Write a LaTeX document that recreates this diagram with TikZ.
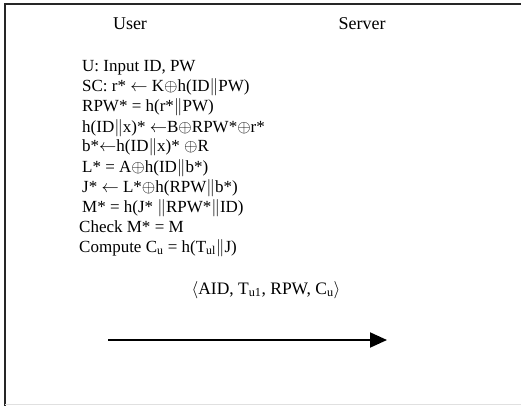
\documentclass[tikz,border=0pt]{standalone}
\usepackage{fontspec}
\setmainfont{Liberation Serif}
\usetikzlibrary{arrows.meta}
\newcommand{\xr}{\ensuremath{\oplus}}
\newcommand{\cat}{\ensuremath{\|}}
\newcommand{\larr}{\ensuremath{\leftarrow}}
\begin{document}
\begin{tikzpicture}[x=1pt,y=-1pt,
  txt/.style={anchor=base west,inner sep=0pt,font=\fontsize{17}{20}\selectfont},
  head/.style={anchor=base,inner sep=0pt,font=\fontsize{18}{20}\selectfont},
  msg/.style={-{Triangle[length=17pt,width=15pt]},line width=2pt}]
  \useasboundingbox (0,0) rectangle (521,406);
  \fill[white] (0,0) rectangle (521,406);
  % frame
  \draw[line width=2pt,black!85] (5,406) -- (5,4) -- (521,4);
  \draw[line width=0.8pt,black!12] (5,404) -- (521,404);
  % column headings
  \node[head] (user) at (130,30) {User};
  \node[head] (server) at (362,30) {Server};
  % user-side computations
  \node[txt] (l1) at (82,72) {U: Input ID, PW};
  \node[txt] (l2) at (82,92) {SC: r* \larr{} K\xr h(ID\cat PW)};
  \node[txt] (l3) at (82,112) {RPW* = h(r*\cat PW)};
  \node[txt] (l4) at (82,132) {h(ID\cat x)* \larr B\xr RPW*\xr r*};
  \node[txt] (l5) at (82,152) {b*\larr h(ID\cat x)* \xr R};
  \node[txt] (l6) at (82,172) {L* = A\xr h(ID\cat b*)};
  \node[txt] (l7) at (82,192) {J* \larr{} L*\xr h(RPW\cat b*)};
  \node[txt] (l8) at (82,212) {M* = h(J* \cat RPW*\cat ID)};
  \node[txt] (l9) at (79,232) {Check M* = M};
  \node[txt] (l10) at (79,252) {Compute C\textsubscript{u} = h(T\textsubscript{ul}\cat J)};
  % message to the server
  \node[head,font=\fontsize{17.5}{20}\selectfont] (m) at (266,294)
    {\ensuremath{\langle}AID, T\textsubscript{u1}, RPW, C\textsubscript{u}\ensuremath{\rangle}};
  \coordinate (from) at (108,340);
  \coordinate (to) at (387,340);
  \draw[msg] (from) -- (to);
\end{tikzpicture}
\end{document}
